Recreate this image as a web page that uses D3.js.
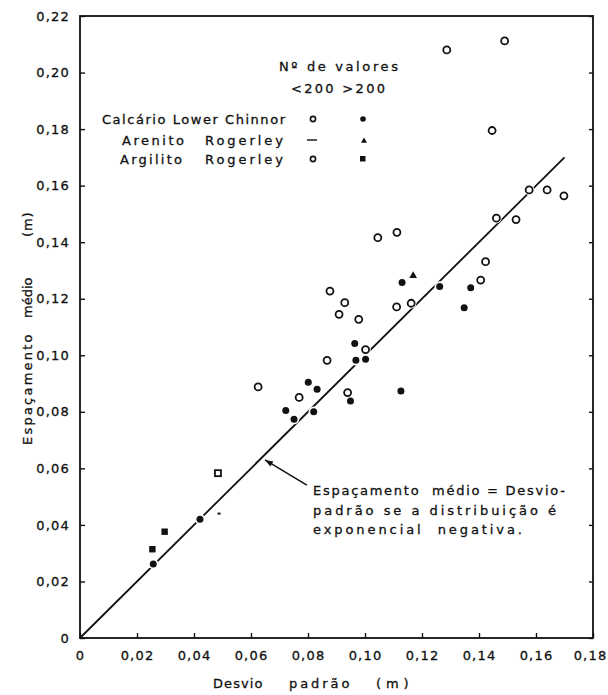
<!DOCTYPE html>
<html>
<head>
<meta charset="utf-8">
<script src="https://cdn.jsdelivr.net/npm/d3@7"></script>
<style>
  html, body { margin: 0; padding: 0; background: #fff; }
  svg { display: block; }
  text { font-family: "DejaVu Sans", sans-serif; fill: #111; stroke: #111; stroke-width: 0.3px; }
</style>
</head>
<body>
<svg id="chart" width="608" height="695"></svg>
<script>
// ---------------- DATA ----------------
const xTicks = [0, 0.02, 0.04, 0.06, 0.08, 0.10, 0.12, 0.14, 0.16, 0.18];
const yTicks = [0, 0.02, 0.04, 0.06, 0.08, 0.10, 0.12, 0.14, 0.16, 0.18, 0.20, 0.22];

// Calcário Lower Chinnor, < 200 valores (open circles)
const calcOpenX = [0.0625, 0.0769, 0.0867, 0.0939, 0.0877, 0.0929, 0.0909, 0.0978, 0.1002, 0.1111, 0.1162,
                   0.1045, 0.1112, 0.1406, 0.1423, 0.1461, 0.1530, 0.1576, 0.1639, 0.1698, 0.1446, 0.1287, 0.1490];
const calcOpenY = [0.0888, 0.0851, 0.0982, 0.0868, 0.1227, 0.1186, 0.1145, 0.1127, 0.1020, 0.1171, 0.1184,
                   0.1416, 0.1435, 0.1266, 0.1331, 0.1485, 0.1480, 0.1585, 0.1585, 0.1564, 0.1795, 0.2080, 0.2112];
// Calcário Lower Chinnor, > 200 valores (filled circles)
const calcFillX = [0.0722, 0.0751, 0.0801, 0.0832, 0.0820, 0.0949, 0.0964, 0.0968, 0.1002, 0.1126, 0.1130,
                   0.1262, 0.1371, 0.1348, 0.0421, 0.0257];
const calcFillY = [0.0805, 0.0774, 0.0905, 0.0880, 0.0800, 0.0838, 0.1042, 0.0982, 0.0986, 0.0874, 0.1257,
                   0.1243, 0.1239, 0.1168, 0.0420, 0.0262];
// Arenito Rogerley
const areOpenX = [0.0488];  const areOpenY = [0.0440];   // < 200 (dash)
const areFillX = [0.1169];  const areFillY = [0.1281];   // > 200 (triangle)
// Argilito Rogerley
const argOpenX = [0.0484];  const argOpenY = [0.0583];   // < 200 (open square)
const argFillX = [0.0254, 0.0297]; const argFillY = [0.0314, 0.0376]; // > 200 (filled square)

// Reference line: espaçamento médio = desvio padrão
const lineX = [0, 0.170];
const lineY = [0, 0.170];

// ---------------- SETUP ----------------
const svg = d3.select("#chart");
const x = d3.scaleLinear().domain([0, 0.18]).range([80, 593]);
const y = d3.scaleLinear().domain([0, 0.22]).range([638, 16]);
const fmt = d => d === 0 ? "0" : d3.format(".2f")(d).replace(".", ",");
const zip = (a, b) => a.map((v, i) => [v, b[i]]);

// frame
svg.append("rect")
  .attr("x", x(0)).attr("y", y(0.22))
  .attr("width", x(0.18) - x(0)).attr("height", y(0) - y(0.22))
  .attr("fill", "none").attr("stroke", "#111").attr("stroke-width", 1.8);

// axes
const ax = svg.append("g").attr("transform", `translate(0,${y(0)})`)
  .call(d3.axisBottom(x).tickValues(xTicks).tickFormat(fmt).tickSizeInner(-5).tickSizeOuter(0).tickPadding(13));
const ay = svg.append("g").attr("transform", `translate(${x(0)},0)`)
  .call(d3.axisLeft(y).tickValues(yTicks).tickFormat(fmt).tickSizeInner(-5).tickSizeOuter(0).tickPadding(10));
const ar = svg.append("g").attr("transform", `translate(${x(0.18)},0)`)
  .call(d3.axisRight(y).tickValues(yTicks).tickFormat("").tickSizeInner(-4).tickSizeOuter(0));
[ax, ay, ar].forEach(g => {
  g.select(".domain").remove();
  g.selectAll(".tick line").attr("stroke", "#111").attr("stroke-width", 1.4);
  g.selectAll(".tick text").attr("font-size", 13).attr("letter-spacing", "1.2px")
    .attr("font-family", "DejaVu Sans, sans-serif").attr("fill", "#111");
});
// keep the last x label inside the picture
ax.selectAll(".tick text").filter(d => d === 0.18).attr("dx", "-3");

// axis titles
const xt = svg.append("g").attr("font-size", 13).attr("letter-spacing", "1.5px");
xt.append("text").attr("x", 213).attr("y", 688).attr("textLength", 51).text("Desvio");
xt.append("text").attr("x", 289).attr("y", 688).attr("textLength", 62).text("padrão");
xt.append("text").attr("x", 376).attr("y", 688).attr("textLength", 34).text("(m)");

const yt = svg.append("g").attr("font-size", 13).attr("letter-spacing", "1.5px");
const yTitle = [["Espaçamento", 445, 112], ["médio", 318, 42], ["(m)", 237, 26]];
yTitle.forEach(([t, yy, len]) => {
  yt.append("text").attr("transform", `translate(32,${yy}) rotate(-90)`)
    .attr("textLength", len).text(t);
});

// reference line
svg.append("line")
  .attr("x1", x(lineX[0])).attr("y1", y(lineY[0]))
  .attr("x2", x(lineX[1])).attr("y2", y(lineY[1]))
  .attr("stroke", "#111").attr("stroke-width", 1.8);

// halos (white gaps around marks, like the original drawing)
const allPts = [].concat(zip(calcOpenX, calcOpenY), zip(calcFillX, calcFillY),
  zip(areFillX, areFillY), zip(argOpenX, argOpenY), zip(argFillX, argFillY));
svg.append("g").selectAll("circle").data(allPts).join("circle")
  .attr("cx", d => x(d[0])).attr("cy", d => y(d[1])).attr("r", 5.2).attr("fill", "#fff");

// marks
const g = svg.append("g");
g.selectAll("circle.co").data(zip(calcOpenX, calcOpenY)).join("circle").attr("class", "co")
  .attr("cx", d => x(d[0])).attr("cy", d => y(d[1])).attr("r", 3.5)
  .attr("fill", "#fff").attr("stroke", "#111").attr("stroke-width", 1.8);
g.selectAll("circle.cf").data(zip(calcFillX, calcFillY)).join("circle").attr("class", "cf")
  .attr("cx", d => x(d[0])).attr("cy", d => y(d[1])).attr("r", 3.5).attr("fill", "#111");
g.selectAll("line.ao").data(zip(areOpenX, areOpenY)).join("line").attr("class", "ao")
  .attr("x1", d => x(d[0]) - 1.5).attr("x2", d => x(d[0]) + 1.5)
  .attr("y1", d => y(d[1])).attr("y2", d => y(d[1])).attr("stroke", "#111").attr("stroke-width", 2);
g.selectAll("path.af").data(zip(areFillX, areFillY)).join("path").attr("class", "af")
  .attr("transform", d => `translate(${x(d[0])},${y(d[1])})`)
  .attr("d", d3.symbol(d3.symbolTriangle, 26)).attr("fill", "#111");
g.selectAll("rect.go").data(zip(argOpenX, argOpenY)).join("rect").attr("class", "go")
  .attr("x", d => x(d[0]) - 3).attr("y", d => y(d[1]) - 3).attr("width", 6).attr("height", 6)
  .attr("fill", "#fff").attr("stroke", "#111").attr("stroke-width", 1.8);
g.selectAll("rect.gf").data(zip(argFillX, argFillY)).join("rect").attr("class", "gf")
  .attr("x", d => x(d[0]) - 3.2).attr("y", d => y(d[1]) - 3.2).attr("width", 6.4).attr("height", 6.4)
  .attr("fill", "#111");

// legend
const lg = svg.append("g").attr("font-size", 13).attr("letter-spacing", "1px");
lg.append("text").attr("x", 279).attr("y", 71).attr("textLength", 120).text("Nº de valores");
lg.append("text").attr("x", 291).attr("y", 93).attr("textLength", 95).text("<200 >200");
lg.append("text").attr("x", 102).attr("y", 124).attr("textLength", 184).text("Calcário Lower Chinnor");
lg.append("text").attr("x", 122).attr("y", 145).attr("textLength", 63).text("Arenito");
lg.append("text").attr("x", 205).attr("y", 145).attr("textLength", 79).text("Rogerley");
lg.append("text").attr("x", 120).attr("y", 164).attr("textLength", 63).text("Argilito");
lg.append("text").attr("x", 205).attr("y", 164).attr("textLength", 79).text("Rogerley");
lg.append("circle").attr("cx", 313).attr("cy", 119).attr("r", 2.6)
  .attr("fill", "#fff").attr("stroke", "#111").attr("stroke-width", 1.6);
lg.append("circle").attr("cx", 363).attr("cy", 119).attr("r", 2.8).attr("fill", "#111");
lg.append("line").attr("x1", 307).attr("x2", 317).attr("y1", 140).attr("y2", 140)
  .attr("stroke", "#111").attr("stroke-width", 1.4);
lg.append("path").attr("transform", "translate(364,141)")
  .attr("d", d3.symbol(d3.symbolTriangle, 16)).attr("fill", "#111");
lg.append("circle").attr("cx", 313).attr("cy", 159).attr("r", 2.6)
  .attr("fill", "#fff").attr("stroke", "#111").attr("stroke-width", 1.6);
lg.append("rect").attr("x", 360).attr("y", 156).attr("width", 5.5).attr("height", 5.5).attr("fill", "#111");

// annotation
const tip = [0.0649, 0.0630], tail = [0.0796, 0.0541];
const tx = x(tip[0]), ty = y(tip[1]), sx = x(tail[0]), sy = y(tail[1]);
svg.append("line").attr("x1", sx).attr("y1", sy).attr("x2", tx).attr("y2", ty)
  .attr("stroke", "#111").attr("stroke-width", 1.5);
const ang = Math.atan2(ty - sy, tx - sx), L = 8, W = 3;
const bx = tx - L * Math.cos(ang), by = ty - L * Math.sin(ang);
svg.append("path").attr("d",
  `M${tx},${ty} L${bx + W * Math.sin(ang)},${by - W * Math.cos(ang)} L${bx - W * Math.sin(ang)},${by + W * Math.cos(ang)} Z`)
  .attr("fill", "#111");
const an = svg.append("g").attr("font-size", 13).attr("letter-spacing", "1px");
an.append("text").attr("x", 313).attr("y", 495).attr("textLength", 253).attr("xml:space", "preserve")
  .text("Espaçamento  médio = Desvio-");
an.append("text").attr("x", 313).attr("y", 515).attr("textLength", 244).text("padrão se a distribuição é");
an.append("text").attr("x", 313).attr("y", 534).attr("textLength", 210).attr("xml:space", "preserve")
  .text("exponencial  negativa.");
</script>
</body>
</html>
